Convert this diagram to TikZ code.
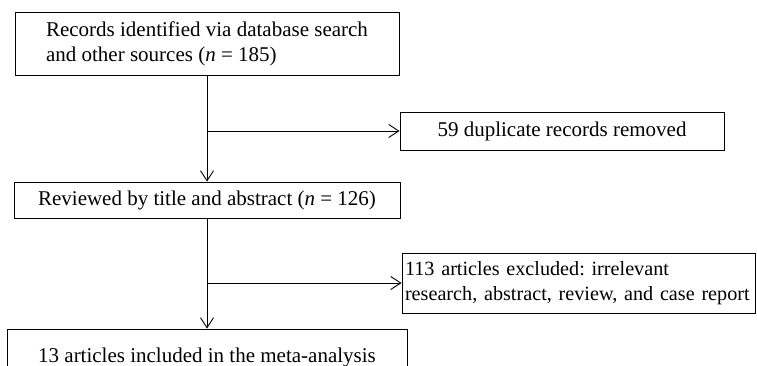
\documentclass[tikz,border=0pt]{standalone}
\usepackage{fontspec}
\setmainfont{Liberation Serif}
\usetikzlibrary{arrows.meta}

\begin{document}
\begin{tikzpicture}[->,>={Straight Barb[length=10pt,width=13pt]},x=1pt,y=-1pt,
                    line width=0.9pt,font=\fontsize{21}{25}\selectfont\frenchspacing,
                    box/.style={draw,rectangle,inner sep=0pt}]
  \useasboundingbox (0,0) rectangle (757,366);
  \clip (0,0) rectangle (757,366);

  \node[box,minimum width=384pt,minimum height=63pt,align=left] (rec)  at (207,43.5)
    {Records identified via database search\\and other sources (\textit{n} = 185)};
  \node[box,minimum width=324pt,minimum height=38pt]            (dup)  at (562,131)
    {59 duplicate records removed};
  \node[box,minimum width=386pt,minimum height=36pt]            (rev)  at (207,200)
    {Reviewed by title and abstract (\textit{n} = 126)};
  \node[box,text width=347pt,inner xsep=3pt,minimum height=60pt,align=left,
        font=\fontsize{20.2}{25}\selectfont\frenchspacing]    (excl) at (578.5,283)
    {113 articles excluded: irrelevant\\\mbox{research, abstract, review, and case report}};
  \node[box,minimum width=400pt,minimum height=56pt]            (incl) at (207,357)
    {13 articles included in the meta-analysis};

  \coordinate (b1) at (rec.south |- dup.west);
  \coordinate (b2) at (rev.south |- excl.west);

  \path (rec) edge (rev)
        (b1)  edge (dup)
        (rev) edge (incl)
        (b2)  edge (excl);
\end{tikzpicture}
\end{document}
